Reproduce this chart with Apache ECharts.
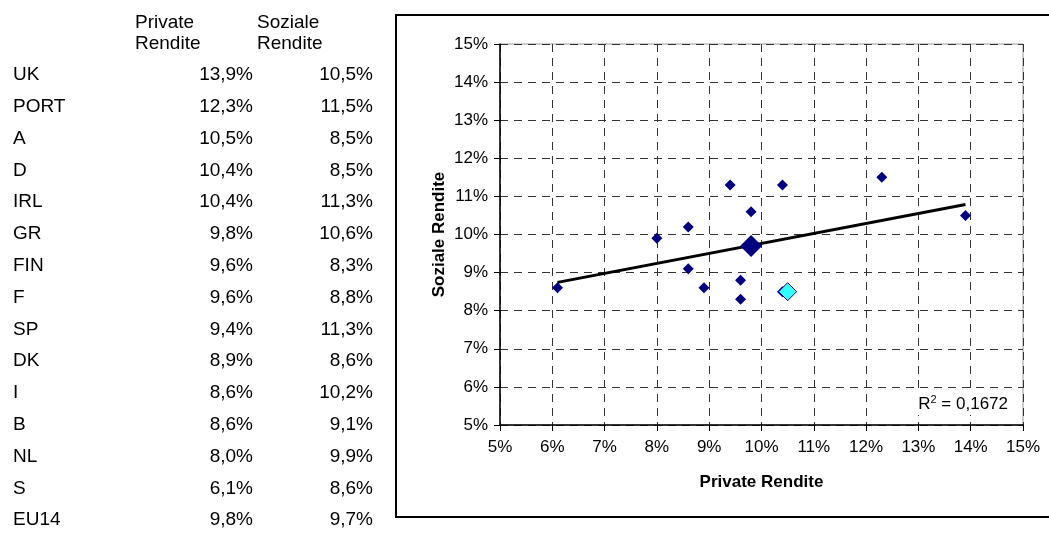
<!DOCTYPE html>
<html>
<head>
<meta charset="utf-8">
<script src="https://cdn.jsdelivr.net/npm/echarts@6/dist/echarts.min.js"></script>
<style>
html,body{margin:0;padding:0;background:#fff;}
#c{width:1049px;height:533px;}
</style>
</head>
<body>
<div id="c"></div>
<script>
// ---- data ----
const countries = ['UK','PORT','A','D','IRL','GR','FIN','F','SP','DK','I','B','NL','S','EU14'];
const privateRendite = [13.9,12.3,10.5,10.4,10.4,9.8,9.6,9.6,9.4,8.9,8.6,8.6,8.0,6.1,9.8];
const sozialeRendite = [10.5,11.5,8.5,8.5,11.3,10.6,8.3,8.8,11.3,8.6,10.2,9.1,9.9,8.6,9.7];
const headerPrivate = ['Private','Rendite'];
const headerSoziale = ['Soziale','Rendite'];
const axisTicks = [5,6,7,8,9,10,11,12,13,14,15];
const highlightCountry = 'A';
const aggregateName = 'EU14';
const r2Label = '0,1672';

const FONT = '"Liberation Sans", Arial, sans-serif';
const fmt = v => v.toFixed(1).replace('.', ',') + '%';

// split series
const normalPts = [], highlightPts = [], aggPts = [];
const regX = [], regY = [];
countries.forEach((c, i) => {
  const p = [privateRendite[i], sozialeRendite[i]];
  if (c === aggregateName) { aggPts.push(p); return; }
  regX.push(p[0]); regY.push(p[1]);
  if (c === highlightCountry) highlightPts.push(p); else normalPts.push(p);
});
// linear trend (least squares) like the spreadsheet trendline
const n = regX.length;
const mx = regX.reduce((a,b)=>a+b,0)/n, my = regY.reduce((a,b)=>a+b,0)/n;
let sxy = 0, sxx = 0;
for (let i=0;i<n;i++){ sxy += (regX[i]-mx)*(regY[i]-my); sxx += (regX[i]-mx)**2; }
const slope = sxy/sxx, icpt = my - slope*mx;
const xMin = Math.min(...regX), xMax = Math.max(...regX);
const trend = [[xMin, icpt+slope*xMin],[xMax, icpt+slope*xMax]];

// table as graphic text
const graphics = [];
const rowY0 = 75, rowH = 31.8;
const tStyle = {fontFamily: FONT, fontSize: 19, fill: '#000'};
graphics.push({type:'rect', shape:{x:396, y:15, width:700, height:502}, style:{fill:'none', stroke:'#000', lineWidth:2}, z:0});
headerPrivate.forEach((t,k)=>graphics.push({type:'text', x:135, y:23+k*21, style:Object.assign({text:t, verticalAlign:'middle', align:'left'}, tStyle)}));
headerSoziale.forEach((t,k)=>graphics.push({type:'text', x:257, y:23+k*21, style:Object.assign({text:t, verticalAlign:'middle', align:'left'}, tStyle)}));
countries.forEach((c,i)=>{
  const y = rowY0 + i*rowH;
  graphics.push({type:'text', x:13, y:y, style:Object.assign({text:c, verticalAlign:'middle', align:'left'}, tStyle)});
  graphics.push({type:'text', x:253, y:y, style:Object.assign({text:fmt(privateRendite[i]), verticalAlign:'middle', align:'right'}, tStyle)});
  graphics.push({type:'text', x:373, y:y, style:Object.assign({text:fmt(sozialeRendite[i]), verticalAlign:'middle', align:'right'}, tStyle)});
});
graphics.push({type:'text', right:37, top:392, z:100,
  style:{text:'{a|R}{s|2}{a| = ' + r2Label + '}', backgroundColor:'#fff', padding:[2,4,2,4],
    rich:{a:{fontFamily:FONT,fontSize:17,fill:'#000',verticalAlign:'bottom'},s:{fontFamily:FONT,fontSize:11,fill:'#000',verticalAlign:'top',padding:[0,0,8,0]}}}});

const axisCommon = {
  type:'value', min:axisTicks[0], max:axisTicks[axisTicks.length-1], interval:1,
  axisLine:{show:true, onZero:false, lineStyle:{color:'#000', width:1.5}},
  axisTick:{show:true, length:6, lineStyle:{color:'#000'}},
  axisLabel:{formatter:'{value}%', color:'#000', fontFamily:FONT, fontSize:17},
  splitLine:{show:true, lineStyle:{color:'#333', type:[8,6], width:1}},
  nameLocation:'middle',
  nameTextStyle:{fontFamily:FONT, fontSize:17, fontWeight:'bold', color:'#000'}
};

const chart = echarts.init(document.getElementById('c'), null, {renderer:'canvas'});
chart.setOption({
  backgroundColor:'#fff',
  animation:false,
  grid:{left:500, top:44, right:26, bottom:108, show:true, borderColor:'#999', borderWidth:1, backgroundColor:'transparent'},
  xAxis:Object.assign({}, axisCommon, {name:'Private Rendite', nameGap:49, axisLabel:Object.assign({}, axisCommon.axisLabel, {margin:14})}),
  yAxis:Object.assign({}, axisCommon, {name:'Soziale Rendite', nameGap:52, axisLabel:Object.assign({}, axisCommon.axisLabel, {margin:12})}),
  graphic:graphics,
  series:[
    {type:'line', data:trend, symbol:'none', lineStyle:{color:'#000', width:3}, z:3},
    {type:'scatter', data:normalPts, symbol:'diamond', symbolSize:11, itemStyle:{color:'#000080', opacity:1}, z:4},
    {type:'scatter', data:aggPts, symbol:'diamond', symbolSize:22, itemStyle:{color:'#000080', opacity:1}, z:5},
    {type:'scatter', data:highlightPts, symbol:'diamond', symbolSize:18, itemStyle:{color:'#33FFFF', borderColor:'#000080', borderWidth:1, opacity:1}, z:6}
  ]
});
</script>
</body>
</html>
